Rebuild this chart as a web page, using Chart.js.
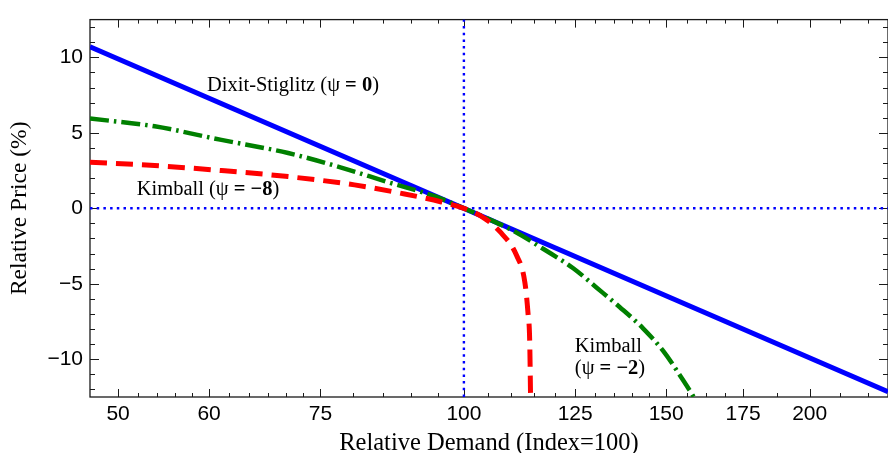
<!DOCTYPE html>
<html>
<head>
<meta charset="utf-8">
<script src="https://cdn.jsdelivr.net/npm/chart.js@4.4.1/dist/chart.umd.min.js"></script>
<style>
  html, body { margin: 0; padding: 0; background: #fff; }
</style>
</head>
<body>
<canvas id="demandChart" width="888" height="453"></canvas>
<script>
// Valores: demanda relativa (índice=100) y precio relativo (%)
const dsDemand = [47.26, 234];
const dsPrice = [10.7, -12.15];

const kimball2Demand = [47.26, 53.8, 61.5, 70.3, 78.2, 85.9, 94.3, 100, 105, 111.1, 117.2, 124.5, 130.5, 136.7, 143.2, 149.1, 155.2, 157.8, 158.5];
const kimball2Price = [5.95, 5.43, 4.53, 3.66, 2.7, 1.73, 0.8, 0, -0.7, -1.6, -2.68, -3.97, -5.26, -6.55, -7.95, -9.45, -11.39, -12.25, -12.5];

const kimball8Demand = [47.26, 53.8, 61.5, 70.3, 80.3, 88.8, 95.6, 100, 103.9, 107.5, 111.1, 113.0, 113.7, 114.1, 114.3];
const kimball8Price = [3.05, 2.83, 2.5, 2.1, 1.55, 0.95, 0.42, 0, -0.6, -1.55, -3.1, -4.9, -6.9, -8.8, -12.5];

// Líneas de referencia (precio 0 y demanda 100)
const zeroLineDemand = [47.26, 234];
const zeroLinePrice = [0, 0];
const indexLineDemand = [100, 100];
const indexLinePrice = [-12.5, 12.5];

// Ejes
const xRange = [47.26, 234];
const yRange = [-12.5, 12.5];
const xTicks = [50, 60, 75, 100, 125, 150, 175, 200];
const xMinorTicks = [52, 54, 56, 58, 62.5, 65, 67.5, 70, 72.5, 80, 85, 90, 95, 105, 110, 115, 120,
                     130, 135, 140, 145, 156.25, 162.5, 168.75, 187.5, 212.5, 225];
const yTicks = [-10, -5, 0, 5, 10];
const yMinorTicks = [-12, -11, -9, -8, -7, -6, -4, -3, -2, -1, 1, 2, 3, 4, 6, 7, 8, 9, 11, 12];

function toPoints(xs, ys) {
    return xs.map((x, i) => ({ x: x, y: ys[i] }));
}

// Marco con marcas hacia dentro en los cuatro lados
const frameTicks = {
    id: 'frameTicks',
    beforeDatasetsDraw(chart) {
        const { ctx, chartArea: a, scales: { x, y } } = chart;
        ctx.save();
        ctx.strokeStyle = '#1a1a1a';
        ctx.lineWidth = 1.3;
        ctx.strokeRect(a.left, a.top, a.right - a.left, a.bottom - a.top);
        ctx.lineWidth = 1;
        ctx.beginPath();
        const xMark = (v, len) => {
            const px = Math.round(x.getPixelForValue(v)) + 0.5;
            ctx.moveTo(px, a.bottom); ctx.lineTo(px, a.bottom - len);
            ctx.moveTo(px, a.top); ctx.lineTo(px, a.top + len);
        };
        const yMark = (v, len) => {
            const py = Math.round(y.getPixelForValue(v)) + 0.5;
            ctx.moveTo(a.left, py); ctx.lineTo(a.left + len, py);
            ctx.moveTo(a.right, py); ctx.lineTo(a.right - len, py);
        };
        xTicks.forEach(v => xMark(v, 8));
        xMinorTicks.forEach(v => xMark(v, 4));
        yTicks.forEach(v => yMark(v, 9));
        yMinorTicks.forEach(v => yMark(v, 5));
        ctx.stroke();
        ctx.restore();
    }
};

// Etiquetas de las curvas (parte en negrita)
const notes = [
    { x: 59.75, y: 8.1, parts: [['Dixit-Stiglitz (\u03c8 ', false], ['= 0', true], [')', false]] },
    { x: 51.9, y: 1.26, parts: [['Kimball (\u03c8 ', false], ['= \u22128', true], [')', false]] },
    { x: 124.9, y: -9.13, parts: [['Kimball', false]] },
    { x: 124.9, y: -10.6, parts: [['(\u03c8 ', false], ['= \u22122', true], [')', false]] }
];

const curveLabels = {
    id: 'curveLabels',
    afterDatasetsDraw(chart) {
        const { ctx, scales: { x, y } } = chart;
        ctx.save();
        ctx.fillStyle = '#000';
        ctx.textBaseline = 'middle';
        ctx.textAlign = 'left';
        notes.forEach(n => {
            let px = x.getPixelForValue(n.x);
            const py = y.getPixelForValue(n.y);
            n.parts.forEach(([txt, bold]) => {
                ctx.font = (bold ? 'bold ' : '') + '20.5px "Liberation Serif"';
                ctx.fillText(txt, px, py);
                px += ctx.measureText(txt).width;
            });
        });
        ctx.restore();
    }
};

const tickFont = { family: 'Liberation Sans', size: 21 };

new Chart(document.getElementById('demandChart'), {
    type: 'line',
    data: {
        datasets: [
            {
                label: 'Kimball (ψ = −8)',
                data: toPoints(kimball8Demand, kimball8Price),
                borderColor: '#ff0000',
                borderWidth: 5,
                borderDash: [17, 9],
                cubicInterpolationMode: 'monotone',
                pointRadius: 0
            },
            {
                label: 'Kimball (ψ = −2)',
                data: toPoints(kimball2Demand, kimball2Price),
                borderColor: '#008000',
                borderWidth: 4.5,
                borderDash: [19, 5, 2.5, 5],
                cubicInterpolationMode: 'monotone',
                pointRadius: 0
            },
            {
                label: 'Dixit-Stiglitz (ψ = 0)',
                data: toPoints(dsDemand, dsPrice),
                borderColor: '#0000ff',
                borderWidth: 5,
                pointRadius: 0
            },
            {
                label: 'zero',
                data: toPoints(zeroLineDemand, zeroLinePrice),
                borderColor: '#0000ff',
                borderWidth: 2.4,
                borderDash: [2.5, 4.2],
                pointRadius: 0
            },
            {
                label: 'index',
                data: toPoints(indexLineDemand, indexLinePrice),
                borderColor: '#0000ff',
                borderWidth: 2.4,
                borderDash: [2.5, 4.2],
                pointRadius: 0
            }
        ]
    },
    options: {
        responsive: false,
        animation: false,
        devicePixelRatio: 1,
        layout: { padding: { left: 0, right: 0, top: 10, bottom: 0 } },
        plugins: {
            legend: { display: false },
            tooltip: { enabled: false }
        },
        scales: {
            x: {
                type: 'logarithmic',
                min: xRange[0],
                max: xRange[1],
                afterBuildTicks: s => { s.ticks = xTicks.map(v => ({ value: v })); },
                afterFit: s => { s.height = 56; },
                grid: { display: false, drawTicks: false },
                border: { display: false },
                ticks: {
                    font: tickFont,
                    color: '#000',
                    padding: 5,
                    maxRotation: 0,
                    autoSkip: false,
                    callback: v => String(v)
                },
                title: {
                    display: true,
                    text: 'Relative Demand (Index=100)',
                    font: { family: 'Liberation Serif', size: 24.5, lineHeight: 0.75 },
                    color: '#000',
                    padding: 0
                }
            },
            y: {
                type: 'linear',
                min: yRange[0],
                max: yRange[1],
                afterBuildTicks: s => { s.ticks = yTicks.map(v => ({ value: v })); },
                afterFit: s => { s.width = 90; },
                grid: { display: false, drawTicks: false },
                border: { display: false },
                ticks: {
                    font: tickFont,
                    color: '#000',
                    padding: 7,
                    callback: v => (v < 0 ? '\u2212' + Math.abs(v) : String(v))
                },
                title: {
                    display: true,
                    text: 'Relative Price (%)',
                    font: { family: 'Liberation Serif', size: 23.5 },
                    color: '#000',
                    padding: { top: 6, bottom: 0 }
                }
            }
        }
    },
    plugins: [frameTicks, curveLabels]
});
</script>
</body>
</html>
